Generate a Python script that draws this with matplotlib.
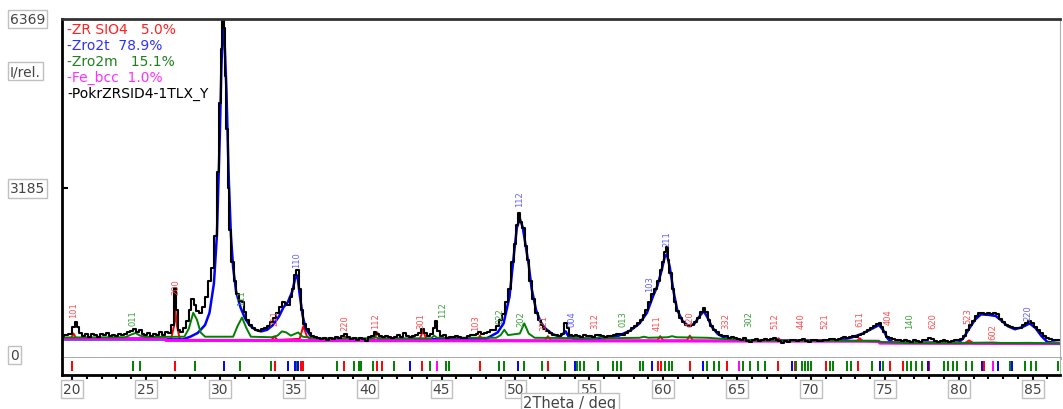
import numpy as np
import matplotlib.pyplot as plt
from matplotlib import transforms

obs = [(19.3, 420), (19.6, 440), (19.9, 450), (20.1, 580), (20.25, 680), (20.4, 580), (20.6, 470),
       (20.8, 410), (21.0, 450), (21.2, 400), (21.4, 460), (21.6, 430), (21.8, 390), (22.0, 450),
       (22.2, 430), (22.4, 470), (22.6, 420), (22.8, 440), (23.0, 410), (23.2, 460), (23.4, 430),
       (23.6, 450), (23.8, 480), (24.0, 500), (24.2, 540), (24.4, 490), (24.6, 520), (24.8, 460),
       (25.0, 440), (25.2, 470), (25.4, 420), (25.6, 460), (25.8, 430), (26.0, 480), (26.2, 440),
       (26.4, 490), (26.6, 470), (26.8, 620), (27.0, 1320), (27.1, 900), (27.2, 520), (27.4, 480),
       (27.6, 560), (27.8, 700), (28.0, 900), (28.15, 1100), (28.3, 1000), (28.5, 880), (28.7, 850),
       (28.9, 950), (29.1, 1150), (29.3, 1450), (29.5, 1700), (29.7, 2300), (29.85, 3500),
       (30.0, 4800), (30.1, 5800), (30.2, 6369), (30.3, 6200), (30.4, 5300), (30.5, 4300),
       (30.6, 3200), (30.7, 2400), (30.85, 1800), (31.0, 1450), (31.2, 1200), (31.4, 1080),
       (31.55, 1050), (31.7, 870), (31.9, 720), (32.1, 620), (32.3, 560), (32.5, 530), (32.7, 510),
       (32.9, 540), (33.1, 560), (33.3, 600), (33.5, 680), (33.7, 760), (33.9, 850), (34.1, 950),
       (34.3, 1060), (34.5, 1020), (34.65, 1000), (34.8, 1150), (34.95, 1300), (35.1, 1550),
       (35.25, 1650), (35.4, 1300), (35.55, 900), (35.7, 640), (35.9, 540), (36.1, 470), (36.3, 420),
       (36.5, 400), (36.7, 380), (36.9, 360), (37.1, 380), (37.3, 340), (37.5, 370), (37.7, 350),
       (37.9, 390), (38.1, 370), (38.3, 420), (38.5, 450), (38.7, 400), (38.9, 350), (39.1, 370),
       (39.3, 330), (39.5, 380), (39.7, 350), (39.9, 320), (40.1, 400), (40.3, 420), (40.5, 480),
       (40.7, 460), (40.9, 410), (41.1, 400), (41.3, 420), (41.5, 390), (41.7, 370), (41.9, 400),
       (42.1, 430), (42.3, 400), (42.5, 470), (42.7, 420), (42.9, 390), (43.1, 410), (43.3, 440),
       (43.5, 470), (43.7, 540), (43.9, 470), (44.1, 420), (44.3, 450), (44.5, 560), (44.65, 700),
       (44.8, 500), (45.0, 420), (45.2, 440), (45.4, 380), (45.6, 400), (45.8, 390), (46.0, 410),
       (46.2, 390), (46.4, 380), (46.6, 370), (46.8, 410), (47.0, 430), (47.2, 440), (47.4, 460),
       (47.6, 480), (47.8, 450), (48.0, 470), (48.2, 480), (48.4, 520), (48.6, 530), (48.8, 600),
       (49.0, 720), (49.2, 820), (49.4, 1050), (49.6, 1300), (49.8, 1800), (49.95, 2150),
       (50.1, 2500), (50.25, 2720), (50.4, 2550), (50.55, 2450), (50.7, 2100), (50.85, 1850),
       (51.0, 1450), (51.2, 1100), (51.4, 850), (51.6, 720), (51.8, 620), (52.0, 550), (52.2, 500),
       (52.4, 470), (52.6, 440), (52.8, 430), (53.0, 420), (53.2, 460), (53.4, 650), (53.55, 560),
       (53.7, 430), (53.9, 410), (54.1, 440), (54.3, 420), (54.5, 400), (54.7, 430), (54.9, 410),
       (55.1, 420), (55.3, 400), (55.5, 440), (55.7, 430), (55.9, 410), (56.1, 400), (56.3, 420),
       (56.5, 410), (56.7, 430), (56.9, 450), (57.1, 460), (57.3, 430), (57.5, 470), (57.7, 500),
       (57.9, 560), (58.1, 600), (58.3, 650), (58.5, 720), (58.7, 800), (58.9, 900), (59.1, 1050),
       (59.3, 1200), (59.5, 1300), (59.7, 1450), (59.85, 1650), (60.0, 1800), (60.15, 2000),
       (60.25, 2080), (60.35, 1850), (60.5, 1600), (60.65, 1300), (60.8, 1050), (61.0, 880),
       (61.2, 760), (61.4, 680), (61.6, 620), (61.8, 600), (62.0, 620), (62.2, 680), (62.4, 760),
       (62.6, 870), (62.75, 940), (62.9, 860), (63.1, 720), (63.3, 600), (63.5, 520), (63.7, 480),
       (63.9, 440), (64.1, 420), (64.3, 410), (64.5, 380), (64.7, 390), (64.9, 370), (65.1, 360),
       (65.3, 340), (65.5, 370), (65.7, 310), (65.9, 300), (66.1, 330), (66.3, 350), (66.5, 320),
       (66.7, 340), (66.9, 360), (67.1, 330), (67.3, 350), (67.5, 370), (67.7, 340), (67.9, 310),
       (68.1, 290), (68.3, 320), (68.5, 300), (68.7, 330), (68.9, 340), (69.1, 310), (69.3, 330),
       (69.5, 350), (69.7, 320), (69.9, 300), (70.1, 330), (70.3, 340), (70.5, 320), (70.7, 310),
       (70.9, 340), (71.1, 330), (71.3, 360), (71.5, 350), (71.7, 330), (71.9, 360), (72.1, 380),
       (72.3, 390), (72.5, 370), (72.7, 400), (72.9, 410), (73.1, 400), (73.3, 430), (73.5, 460),
       (73.7, 490), (73.9, 520), (74.1, 560), (74.3, 600), (74.5, 640), (74.65, 660), (74.8, 580),
       (75.0, 480), (75.2, 400), (75.4, 370), (75.6, 350), (75.8, 330), (76.0, 340), (76.2, 320),
       (76.4, 340), (76.6, 310), (76.8, 300), (77.0, 330), (77.2, 320), (77.4, 300), (77.6, 330),
       (77.8, 340), (78.0, 370), (78.2, 360), (78.4, 320), (78.6, 300), (78.8, 310), (79.0, 340),
       (79.2, 320), (79.4, 300), (79.6, 320), (79.8, 330), (80.0, 340), (80.2, 360), (80.4, 420),
       (80.6, 520), (80.8, 620), (81.0, 700), (81.2, 780), (81.4, 840), (81.6, 850), (81.8, 830),
       (82.0, 840), (82.2, 830), (82.4, 850), (82.6, 820), (82.8, 740), (83.0, 680), (83.2, 620),
       (83.4, 600), (83.6, 580), (83.8, 560), (84.0, 560), (84.2, 570), (84.4, 620), (84.6, 660),
       (84.8, 690), (85.0, 650), (85.2, 590), (85.4, 530), (85.6, 470), (85.8, 420), (86.0, 380),
       (86.2, 350), (86.4, 340), (86.6, 330), (86.9, 330)]

# Zro2t fit
zro2t = [(19.3, 350), (27.5, 350), (28.0, 400), (28.5, 470), (29.0, 620), (29.3, 850), (29.6, 1400),
         (29.8, 2300), (30.0, 4200), (30.1, 5400), (30.2, 6200), (30.3, 6100), (30.45, 5000),
         (30.6, 3400), (30.75, 2300), (30.9, 1700), (31.1, 1250), (31.4, 950), (31.7, 750),
         (32.0, 620), (32.4, 530), (32.8, 500), (33.2, 530), (33.6, 620), (34.0, 780), (34.3, 950),
         (34.6, 1050), (34.9, 1250), (35.1, 1500), (35.25, 1550), (35.4, 1200), (35.6, 800),
         (35.8, 560), (36.1, 430), (36.5, 360), (37.5, 330), (42.0, 330), (42.8, 350), (43.0, 400),
         (43.2, 350), (48.0, 360), (48.8, 480), (49.2, 650), (49.6, 1150), (49.9, 1950), (50.1, 2450),
         (50.3, 2620), (50.5, 2450), (50.7, 2100), (50.9, 1750), (51.1, 1300), (51.4, 900),
         (51.7, 680), (52.0, 560), (52.5, 450), (53.0, 400), (53.4, 500), (53.6, 400), (54.0, 360),
         (56.0, 370), (57.0, 420), (57.8, 520), (58.4, 650), (58.9, 850), (59.3, 1150), (59.6, 1350),
         (59.9, 1650), (60.1, 1900), (60.25, 1950), (60.45, 1700), (60.7, 1250), (60.95, 900),
         (61.3, 700), (61.7, 600), (62.1, 640), (62.5, 800), (62.75, 880), (63.0, 760), (63.3, 580),
         (63.7, 450), (64.2, 370), (65.0, 330), (72.0, 330), (72.8, 390), (73.5, 460), (74.2, 560),
         (74.6, 620), (74.9, 520), (75.2, 360), (75.5, 290), (80.0, 290), (80.3, 370), (80.7, 550),
         (81.1, 720), (81.5, 820), (82.0, 810), (82.5, 790), (82.9, 700), (83.3, 600), (83.8, 540),
         (84.3, 580), (84.8, 650), (85.2, 560), (85.6, 410), (86.0, 300), (86.9, 280)]

# Zro2m fit
zro2m = [(19.3, 385), (23.6, 390), (24.0, 440), (24.3, 470), (24.6, 420), (25.0, 395), (27.6, 400),
         (27.9, 550), (28.2, 850), (28.45, 720), (28.7, 480), (29.0, 400), (30.9, 400), (31.2, 600),
         (31.5, 760), (31.8, 560), (32.1, 400), (33.5, 390), (33.9, 420), (34.2, 500), (34.5, 480),
         (34.8, 420), (35.3, 480), (35.6, 400), (36.5, 370), (40.3, 370), (40.5, 400), (40.7, 370),
         (44.3, 370), (44.5, 420), (44.7, 380), (48.7, 380), (49.0, 430), (49.25, 530), (49.5, 430),
         (50.3, 460), (50.6, 650), (50.9, 460), (51.3, 380), (55.5, 370), (55.7, 400), (55.9, 370),
         (58.4, 380), (58.7, 400), (59.0, 380), (60.3, 390), (60.6, 410), (60.9, 390), (63.0, 380),
         (64.0, 360), (65.5, 340), (66.0, 330), (74.4, 320), (74.8, 300), (76.0, 290), (76.5, 280),
         (80.0, 280), (82.3, 290), (83.0, 280), (84.8, 285), (86.9, 270)]

# ZR SIO4 fit
zrsio4 = [(19.3, 360), (19.9, 360), (20.1, 460), (20.3, 360), (26.7, 360), (26.9, 600), (27.0, 880),
          (27.1, 600), (27.3, 340), (33.5, 340), (33.7, 400), (33.9, 340), (35.4, 360), (35.65, 600),
          (35.9, 400), (36.3, 330), (38.3, 330), (38.5, 400), (38.7, 330), (40.4, 330), (40.65, 480),
          (40.9, 330), (43.5, 330), (43.75, 520), (44.0, 330), (47.4, 330), (47.6, 420), (47.8, 330),
          (52.0, 330), (52.2, 410), (52.4, 330), (59.6, 330), (59.8, 410), (60.0, 330), (61.6, 330),
          (61.8, 420), (62.0, 330), (64.2, 325), (64.4, 380), (64.6, 325), (67.6, 320), (67.8, 370),
          (68.0, 320), (73.1, 320), (73.3, 370), (73.5, 320), (75.2, 290), (75.4, 340), (75.6, 280),
          (80.4, 275), (80.7, 330), (81.0, 275), (86.9, 270)]

# Fe_bcc / background
fe_bcc = [(19.3, 365), (26.3, 365), (26.35, 330), (74.6, 315), (74.65, 280), (86.9, 270)]

# reflection positions for the tick strip
red_ticks = [20.0, 27.0, 33.7, 35.5, 35.65, 38.43, 40.65, 40.98, 43.7, 47.6, 52.19, 59.64, 59.87,
             61.79, 64.32, 67.77, 68.9, 71.04, 73.15, 75.38, 76.2, 78.0, 81.7]
green_ticks = [24.1, 24.6, 28.3, 31.37, 33.46, 35.25, 37.92, 39.05, 39.4, 39.55, 40.34, 41.8, 44.2,
               45.3, 45.5, 48.86, 49.2, 50.6, 51.77, 53.36, 54.2, 54.4, 54.65, 55.58, 56.6, 56.9,
               57.15, 58.4, 58.63, 60.15, 60.36, 60.62, 62.96, 63.43, 63.78, 65.4, 65.9, 66.4, 66.9,
               69.0, 69.4, 69.6, 69.8, 70.0, 71.3, 71.5, 72.45, 72.7, 74.1, 74.87, 76.5, 76.8, 77.1,
               77.5, 79.0, 79.3, 79.6, 79.9, 80.5, 80.9, 83.5, 84.5, 84.9, 85.2, 86.7]
blue_ticks = [30.27, 34.58, 35.1, 35.3, 42.9, 50.15, 54.06, 59.22, 62.72, 68.7, 74.67, 77.9, 81.55,
              82.64, 83.6]
magenta_ticks = [44.72, 65.12, 82.3]

# hkl labels: (2theta, counts, text)
red_labels = [(20.1, 923, '101'), (27.0, 1356, '200'), (33.7, 770, '211'), (38.45, 680, '220'),
              (40.55, 716, '112'), (43.6, 716, '301'), (47.3, 680, '103'), (51.9, 680, '321'),
              (55.4, 716, '312'), (59.6, 680, '411'), (61.8, 750, '420'), (64.25, 716, '332'),
              (67.55, 716, '512'), (69.35, 716, '440'), (70.95, 716, '521'), (73.3, 750, '611'),
              (75.2, 780, '404'), (78.25, 716, '620'), (80.6, 810, '523'), (82.3, 510, '602')]
green_labels = [(24.1, 772, '011'), (31.5, 1150, '111'), (45.1, 923, '112'), (48.96, 810, '022'),
                (50.4, 754, '202'), (57.26, 754, '013'), (65.8, 754, '302'), (76.7, 716, '140')]
blue_labels = [(35.2, 1850, '110'), (50.3, 3000, '112'), (60.25, 2250, '211'), (59.1, 1413, '103'),
               (53.8, 754, '004'), (84.7, 870, '220')]

legend_rows = [('-ZR SIO4   5.0%', '#ff2020'), ('-Zro2t  78.9%', '#3030ff'),
               ('-Zro2m   15.1%', '#208020'), ('-Fe_bcc  1.0%', '#ff30ff'),
               ('-PokrZRSID4-1TLX_Y', '#000000')]

W, H = 1063, 410
fig = plt.figure(figsize=(W / 100, H / 100), dpi=100)


def px_box(l, t, r, b):
    return [l / W, 1 - b / H, (r - l) / W, (b - t) / H]


ax = fig.add_axes(px_box(62, 20, 1060, 359))
ax2 = fig.add_axes(px_box(62, 359, 1060, 376), sharex=ax)

# component curves: red and blue sit under the background line, green above it
for pts, col, lw in [(zrsio4, '#ff0000', 1.4), (zro2t, '#0000ff', 1.8),
                     (fe_bcc, '#ff00ff', 2.2), (zro2m, '#008000', 1.4)]:
    a = np.array(pts)
    ax.plot(a[:, 0], a[:, 1], color=col, lw=lw)
a = np.array(obs)
ax.plot(a[:, 0], a[:, 1], color='black', lw=1.5, drawstyle='steps-mid')

for labels, col in [(red_labels, '#ff5050'), (green_labels, '#40a040'), (blue_labels, '#6060ff')]:
    for th, y, s in labels:
        ax.text(th, y, s, rotation=90, color=col, fontsize=6, ha='center', va='center')

ax.set_xlim(19.32, 86.85)
ax.set_ylim(0, 6369)
ax.set_yticks([3185])
ax.tick_params(axis='y', direction='in', length=4, width=1.5, labelleft=False)
ax.tick_params(axis='x', bottom=False, labelbottom=False)
ax.spines['left'].set_linewidth(2)
ax.spines['top'].set_linewidth(2)
ax.spines['top'].set_color('#333333')
ax.spines['right'].set_color('#b0b0b0')
ax.spines['bottom'].set_color('#a0a0a0')
ax.spines['bottom'].set_linewidth(2)

# tick strip with reflection markers
for ticks, col in [(red_ticks, '#ff0000'), (green_ticks, '#008000'),
                   (blue_ticks, '#0000ff'), (magenta_ticks, '#ff00ff')]:
    ax2.vlines(ticks, 0.25, 0.8, colors=col, lw=1.4)
ax2.set_ylim(0, 1)
ax2.set_yticks([])
ax2.set_xticks(np.arange(20, 90, 5))
ax2.set_xticks(np.arange(20, 87), minor=True)
ax2.tick_params(axis='x', which='major', direction='out', length=3.5, width=1.5, pad=1.5,
                labelsize=10, labelcolor='#444444')
ax2.tick_params(axis='x', which='minor', direction='out', length=3, width=1.5)
ax2.spines['top'].set_visible(False)
ax2.spines['left'].set_linewidth(2)
ax2.spines['bottom'].set_linewidth(2)
ax2.spines['right'].set_color('#b0b0b0')
for lbl in ax2.get_xticklabels():
    lbl.set_bbox(dict(boxstyle='square,pad=0.15', fc='white', ec='#c0c0c0', lw=1))

box = dict(boxstyle='square,pad=0.15', fc='white', ec='#c0c0c0', lw=1)
trans = transforms.blended_transform_factory(fig.transFigure, ax.transData)
for val, txt in [(6369, '6369'), (5390, 'I/rel.'), (3185, '3185'), (60, '0')]:
    ax.text(10 / W, val, txt, transform=trans, ha='left', va='center', fontsize=10,
            color='#444444', bbox=box)

fig.text(570 / W, 1 - 404 / H, '2Theta / deg', ha='center', va='center', fontsize=10.5,
         color='#444444', bbox=box)

for i, (txt, col) in enumerate(legend_rows):
    fig.text(67 / W, 1 - (30 + i * 16) / H, txt, color=col, fontsize=10, ha='left', va='center')

fig.savefig('out.png', dpi=100)
